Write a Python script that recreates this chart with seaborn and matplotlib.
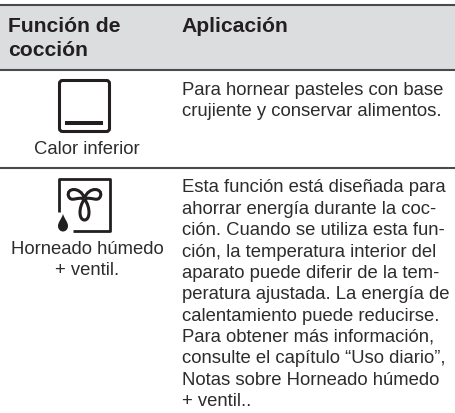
import matplotlib
matplotlib.use("Agg")
import matplotlib.pyplot as plt
from matplotlib.patches import FancyBboxPatch, Rectangle
from matplotlib.path import Path
from matplotlib.patches import PathPatch
import seaborn as sns

sns.set_theme(style="white")
plt.rcParams['font.family'] = ['Liberation Sans', 'DejaVu Sans']

headers = ["Función de\ncocción", "Aplicación"]
functions = ["Calor inferior", "Horneado húmedo\n+ ventil."]
app_lines_1 = ["Para hornear pasteles con base", "crujiente y conservar alimentos."]
app_lines_2 = ["Esta función está diseñada para", "ahorrar energía durante la coc-",
               "ción. Cuando se utiliza esta fun-", "ción, la temperatura interior del",
               "aparato puede diferir de la tem-", "peratura ajustada. La energía de",
               "calentamiento puede reducirse.", "Para obtener más información,",
               "consulte el capítulo “Uso diario”,", "Notas sobre Horneado húmedo",
               "+ ventil.."]

INK = "#231f20"
TXT = "#2e2b2c"
RULE = "#4a4a4c"

fig = plt.figure(figsize=(4.55, 4.14), dpi=100, facecolor="white")
ax = fig.add_axes([0, 0, 1, 1])
ax.set_xlim(0, 455)
ax.set_ylim(414, 0)
ax.axis("off")

ax.add_patch(Rectangle((0, 6), 455, 65, fc="#dcddde", ec="none"))
for y in (6, 70.5, 169):
    ax.plot([0, 455], [y, y], color=RULE, lw=1.5, solid_capstyle="butt")

HFS = 15.2
BFS = 13.35
ax.text(8.5, 31.7, headers[0].split("\n")[0], fontsize=HFS, fontweight="bold", color=INK, va="baseline")
ax.text(8.5, 56.5, headers[0].split("\n")[1], fontsize=HFS, fontweight="bold", color=INK, va="baseline")
ax.text(181.5, 31.7, headers[1], fontsize=HFS, fontweight="bold", color=INK, va="baseline")

LH = 21.37
for i, line in enumerate(app_lines_1):
    ax.text(182, 95 + i * 20.7, line, fontsize=BFS, color=TXT, va="baseline")
for i, line in enumerate(app_lines_2):
    ax.text(182, 192.4 + i * LH, line, fontsize=BFS, color=TXT, va="baseline")

ax.text(87, 154.3, functions[0], fontsize=BFS, color=TXT, ha="center", va="baseline")
ax.text(87, 253.7, functions[1].split("\n")[0], fontsize=BFS, color=TXT, ha="center", va="baseline")
ax.text(87, 274.7, functions[1].split("\n")[1], fontsize=BFS, color=TXT, ha="center", va="baseline")

# icon 1: lower heat
ax.add_patch(FancyBboxPatch((59.5, 81.5), 50, 51, boxstyle="round,pad=0,rounding_size=3",
                            fc="none", ec=INK, lw=2.2))
ax.add_patch(Rectangle((65, 122), 38, 3.5, fc=INK, ec="none"))

# icon 2: fan + drop
ax.plot([59, 59, 110, 110, 73], [213, 180, 180, 231.5, 231.5], color=INK, lw=2.0,
        solid_joinstyle="round", solid_capstyle="butt")
C = Path.CURVE4
fan_codes = [Path.MOVETO, C, C, C, C, C, C]
cx, cy = 84.5, 200
lobes = [
    [(cx, cy), (78, 197), (71, 204), (68.5, 197), (66, 189), (80, 187), (cx, cy - 1)],
    [(cx, cy), (91, 197), (98, 204), (100.5, 197), (103, 189), (89, 187), (cx, cy - 1)],
    [(cx, cy), (78, 209), (79, 221), (cx, 221), (90, 221), (91, 209), (cx, cy)],
]
for verts in lobes:
    ax.add_patch(PathPatch(Path(verts, fan_codes), fc="white", ec=INK, lw=2.2))
drop = Path([(63, 215), (61, 221), (58, 223), (58, 227), (58, 230.5), (60.5, 232.5), (63, 232.5),
             (65.5, 232.5), (68, 230.5), (68, 227), (68, 223), (65, 221), (63, 215)],
            [Path.MOVETO] + [C] * 12)
ax.add_patch(PathPatch(drop, fc=INK, ec="none"))

fig.savefig("out.png", dpi=100)
